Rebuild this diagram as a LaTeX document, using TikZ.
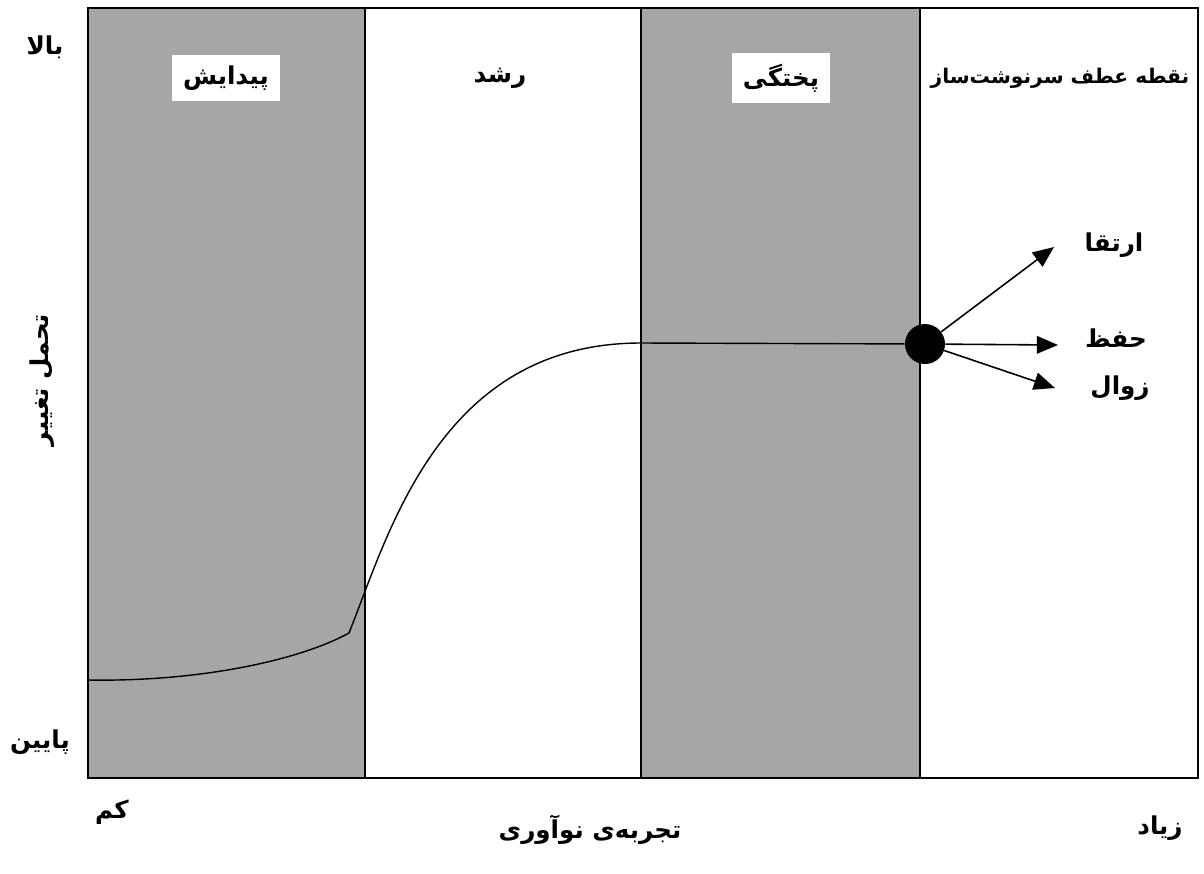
\documentclass[tikz,border=0pt]{standalone}
\usepackage{fontspec}
\newfontfamily\farsi[Script=Arabic]{DejaVu Sans}
\TeXXeTstate=1
\usetikzlibrary{arrows.meta}

\begin{document}
\begin{tikzpicture}[
    x=0.02cm, y=-0.02cm,
    every node/.style={font=\farsi\bfseries\fontsize{14}{17}\selectfont},
    band/.style={fill=gray!70},
    tag/.style={fill=white,inner sep=6pt},
    branch/.style={-{Triangle[length=12pt,width=10pt]},line width=.9pt}]
    \useasboundingbox (0,0) rectangle (1204,873);
    \fill[band] (88,8) rectangle (365,778);
    \fill[band] (641,8) rectangle (920,778);
    \draw[line width=1.1pt] (88,8) rectangle (1198,778);
    \draw[line width=.8pt]
        (365,8) -- (365,778)
        (641,8) -- (641,778)
        (920,8) -- (920,778);
    % stages
    \node[tag] (birth) at (226,78) {\beginR پیدایش\endR};
    \node (growth) at (500,78) {\beginR رشد\endR};
    \node[tag] (mature) at (781,78) {\beginR پختگی\endR};
    \node[font=\farsi\bfseries\fontsize{11.5}{14}\selectfont] (turnlabel) at (1060,78)
        {\beginR نقطه عطف سرنوشت‌ساز\endR};
    % curve and turning point
    \node[circle,fill=black,inner sep=0pt,minimum size=0.8cm] (turn) at (925,344) {};
    \draw[line width=.8pt] (88,680) .. controls (200,682) and (300,660) .. (349,633)
        .. controls (389,533) and (440,343) .. (641,343) -- (turn);
    \coordinate (upend) at (1054,247);
    \coordinate (keepend) at (1058,345);
    \coordinate (downend) at (1055,388);
    \draw[branch] (turn) -- (upend);
    \draw[branch] (turn) -- (keepend);
    \draw[branch] (turn) -- (downend);
    \node (up) at (1114,245) {\beginR ارتقا\endR};
    \node (keep) at (1116,338) {\beginR حفظ\endR};
    \node (down) at (1120,388) {\beginR زوال\endR};
    % axes
    \node (high) at (45,47) {\beginR بالا\endR};
    \node[rotate=90] (tolerance) at (42,380) {\beginR تحمل تغییر\endR};
    \node (low) at (40,742) {\beginR پایین\endR};
    \node (few) at (112,812) {\beginR کم\endR};
    \node (many) at (1160,828) {\beginR زیاد\endR};
    \node (experience) at (590,830) {\beginR تجربه‌ی نوآوری\endR};
\end{tikzpicture}
\end{document}
